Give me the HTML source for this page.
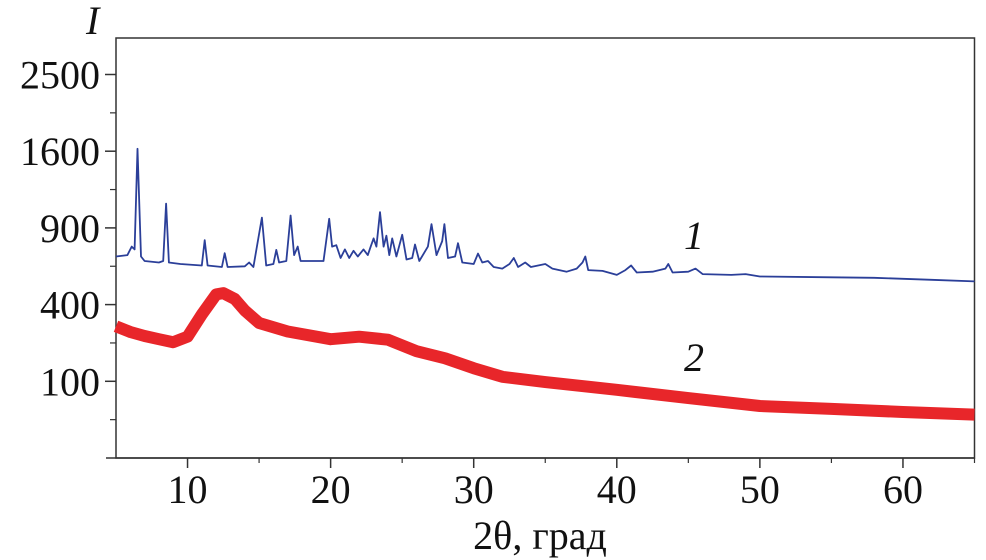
<!DOCTYPE html>
<html><head><meta charset="utf-8"><style>
body{margin:0;background:#fff}
svg{display:block}
text{font-family:"Liberation Serif",serif;fill:#111}
</style></head><body>
<svg id="chart" width="986" height="560">
<g id="axes"></g>
<g id="series"></g>
<text x="86" y="34" font-size="40" font-style="italic">I</text>
<text x="540" y="549" font-size="40" text-anchor="middle">2θ, град</text>
<text x="684" y="249" font-size="40" font-style="italic">1</text>
<text x="684" y="371" font-size="40" font-style="italic">2</text>
</svg>
<script>
const xTicks=[10,20,30,40,50,60];
const xMinor=[15,25,35,45,55];
const yTicks=[100,400,900,1600,2500];
const yMinorSqrt=[5,15,25,35,45];
const blueX=[5,5.8,6.1,6.3,6.5,6.75,7,8,8.3,8.5,8.7,9.5,11,11.2,11.4,12.4,12.6,12.8,14,14.3,14.6,15.2,15.5,16,16.2,16.4,16.9,17.2,17.45,17.7,17.9,19.5,19.9,20.1,20.4,20.7,21,21.3,21.6,21.9,22.3,22.6,22.8,23.0,23.2,23.45,23.7,23.9,24.1,24.3,24.6,25.0,25.3,25.7,25.9,26.2,26.8,27.05,27.4,27.8,27.95,28.2,28.7,28.9,29.2,30,30.3,30.6,31,31.4,32,32.5,32.8,33.1,33.6,34,35,35.5,36.5,37.2,37.6,37.8,38,39,40,40.6,41,41.4,42.5,43.4,43.6,43.9,45,45.5,46,48,49,50,55,58,62,65];
const blueI=[690,700,760,740,1625,690,660,650,660,1100,650,640,630,806,630,620,713,620,625,650,620,982,630,640,736,650,660,1000,700,760,660,660,973,760,770,680,740,680,730,690,740,700,760,820,760,1028,760,840,700,820,690,847,670,680,775,660,760,930,700,800,930,680,690,784,650,640,710,650,660,620,610,640,680,620,650,620,640,610,590,610,650,690,600,595,570,600,630,585,590,610,640,585,590,610,575,570,575,560,555,552,540,530];
const redX=[5,6,7,8,9,10,11,12,12.5,13.3,14,15,17,20,22,24,26,28,30,32,35,40,45,50,55,60,65];
const redI=[295,270,253,240,228,250,350,455,462,430,370,310,272,240,250,238,194,169,137,112,98,79,61,46,41,36,32];
const X=v=>116+(v-5)*(974.5-116)/60;
const Y=v=>458-7.67*Math.sqrt(v);
const NS='http://www.w3.org/2000/svg';
const ax=document.getElementById('axes'),se=document.getElementById('series');
function mk(p,tag,attrs){const e=document.createElementNS(NS,tag);for(const k in attrs)e.setAttribute(k,attrs[k]);p.appendChild(e);return e;}
let f=mk(ax,'rect',{x:116,y:38,width:858.5,height:420,fill:'none',stroke:'#333','stroke-width':1.5});


let l=mk(ax,'line',{x1:106,y1:458,x2:974.5,y2:458,stroke:'#333','stroke-width':1.5});


xTicks.forEach(v=>{
 let t=mk(ax,'line',{x1:X(v),y1:458,x2:X(v),y2:468,stroke:'#333','stroke-width':1.5});
 
 
 let tx=mk(ax,'text',{x:X(v),y:503,'font-size':40,'text-anchor':'middle'});tx.textContent=v;
 
 
});
xMinor.concat([65]).forEach(v=>{
 let t=mk(ax,'line',{x1:X(v),y1:458,x2:X(v),y2:463,stroke:'#333','stroke-width':1.2});
 
 
});
yTicks.forEach(v=>{
 let t=mk(ax,'line',{x1:105,y1:Y(v),x2:116,y2:Y(v),stroke:'#333','stroke-width':1.5});
 
 
 let tx=mk(ax,'text',{x:100,y:Y(v)+14,'font-size':40,'text-anchor':'end'});tx.textContent=v;
 
 
});
yMinorSqrt.forEach(s=>{
 let t=mk(ax,'line',{x1:110,y1:Y(s*s),x2:116,y2:Y(s*s),stroke:'#333','stroke-width':1.2});
 
 
});
function path(xs,ys){return xs.map((x,i)=>(i?'L':'M')+X(x).toFixed(1)+' '+Y(ys[i]).toFixed(1)).join('');}
let r=mk(se,'path',{d:path(redX,redI),fill:'none',stroke:'#e8262a','stroke-width':12,'stroke-linejoin':'round'});


let b=mk(se,'path',{d:path(blueX,blueI),fill:'none',stroke:'#2b3f99','stroke-width':1.8,'stroke-linejoin':'round'});


</script>
</body></html>
